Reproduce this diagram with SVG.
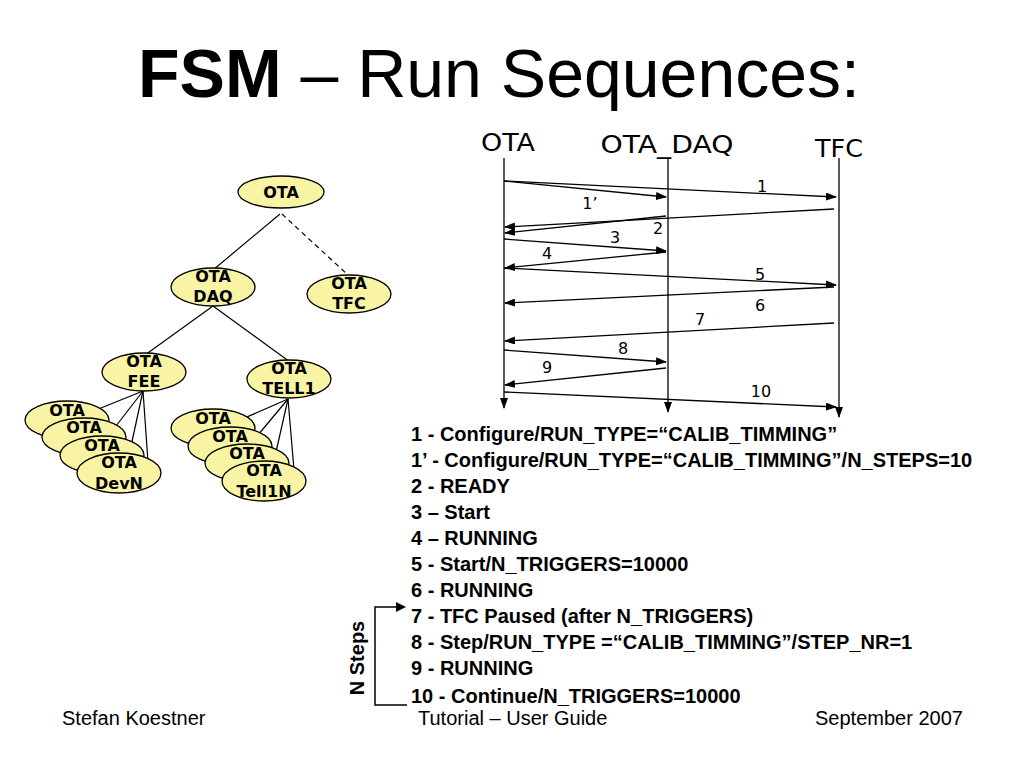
<svg xmlns="http://www.w3.org/2000/svg" width="1024" height="768" viewBox="0 0 1024 768">
<defs>
<style>
.nd{fill:#F9F4A4;stroke:#000;stroke-width:1.3}
.nt{font-family:"DejaVu Sans",sans-serif;font-weight:bold;font-size:16px;text-anchor:middle;fill:#000}
.tl{stroke:#000;stroke-width:1.2;fill:none}
.ln{stroke:#000;stroke-width:1.5;fill:none}
.ar{stroke:#000;stroke-width:1.3;fill:none;marker-end:url(#ah)}
.hd{font-family:"DejaVu Sans",sans-serif;font-size:25px;fill:#000;text-anchor:middle}
.lb{font-family:"DejaVu Sans",sans-serif;font-size:16px;fill:#000;text-anchor:middle}
.li{font-family:"Liberation Sans",Arial,sans-serif;font-weight:bold;font-size:20px;fill:#000}
.ft{font-family:"Liberation Sans",Arial,sans-serif;font-size:20px;fill:#000}
</style>
<marker id="ah" markerWidth="11" markerHeight="8" refX="10" refY="4" orient="auto" markerUnits="userSpaceOnUse">
<path d="M0,0 L11,4 L0,8 Z" fill="#000"/>
</marker>
</defs>
<rect width="1024" height="768" fill="#fff"/>

<text x="138" y="97" font-family="Liberation Sans,Arial,sans-serif" font-size="68" fill="#000"><tspan font-weight="bold">FSM</tspan> – Run Sequences:</text>

<g id="tree-connectors">
<line class="tl" x1="280" y1="214" x2="213" y2="270"/>
<line class="tl" x1="282" y1="214" x2="349" y2="276" stroke-dasharray="5,4"/>
<line class="tl" x1="213" y1="306" x2="145" y2="355"/>
<line class="tl" x1="213" y1="306" x2="290" y2="362"/>
<line class="tl" x1="143" y1="391" x2="96" y2="410"/>
<line class="tl" x1="143" y1="391" x2="116" y2="426"/>
<line class="tl" x1="143" y1="391" x2="131" y2="446"/>
<line class="tl" x1="143" y1="391" x2="148" y2="462"/>
<line class="tl" x1="288" y1="399" x2="240" y2="420"/>
<line class="tl" x1="288" y1="399" x2="258" y2="435"/>
<line class="tl" x1="288" y1="399" x2="276" y2="452"/>
<line class="tl" x1="288" y1="399" x2="294" y2="470"/>
</g>

<g id="n-ota"><ellipse class="nd" cx="281" cy="192" rx="43" ry="16"/><text class="nt" x="281" y="198">OTA</text></g>
<g id="n-daq"><ellipse class="nd" cx="213" cy="287" rx="42" ry="19"/><text class="nt" x="213" y="282">OTA</text><text class="nt" x="213" y="302">DAQ</text></g>
<g id="n-tfc"><ellipse class="nd" cx="349" cy="294" rx="42" ry="19"/><text class="nt" x="349" y="289">OTA</text><text class="nt" x="349" y="309">TFC</text></g>
<g id="n-fee"><ellipse class="nd" cx="144" cy="372" rx="42" ry="19"/><text class="nt" x="144" y="367">OTA</text><text class="nt" x="144" y="387">FEE</text></g>
<g id="n-tell1"><ellipse class="nd" cx="289" cy="379" rx="42" ry="19"/><text class="nt" x="289" y="374">OTA</text><text class="nt" x="289" y="394">TELL1</text></g>

<g id="n-dev1"><ellipse class="nd" cx="67" cy="420" rx="42" ry="19"/><text class="nt" x="67" y="416">OTA</text></g>
<g id="n-dev2"><ellipse class="nd" cx="84" cy="437" rx="42" ry="19"/><text class="nt" x="84" y="433">OTA</text></g>
<g id="n-dev3"><ellipse class="nd" cx="102" cy="455" rx="42" ry="19"/><text class="nt" x="102" y="451">OTA</text></g>
<g id="n-devN"><ellipse class="nd" cx="119" cy="473" rx="42" ry="20"/><text class="nt" x="119" y="468">OTA</text><text class="nt" x="119" y="489">DevN</text></g>

<g id="n-tell1a"><ellipse class="nd" cx="213" cy="428" rx="42" ry="19"/><text class="nt" x="213" y="424">OTA</text></g>
<g id="n-tell1b"><ellipse class="nd" cx="230" cy="446" rx="42" ry="19"/><text class="nt" x="230" y="442">OTA</text></g>
<g id="n-tell1c"><ellipse class="nd" cx="247" cy="463" rx="42" ry="19"/><text class="nt" x="247" y="459">OTA</text></g>
<g id="n-tell1N"><ellipse class="nd" cx="264" cy="481" rx="42" ry="20"/><text class="nt" x="264" y="476">OTA</text><text class="nt" x="264" y="497">Tell1N</text></g>

<g id="lifeline-ota"><text class="hd" x="508" y="151" textLength="54" lengthAdjust="spacingAndGlyphs">OTA</text><line class="ar" x1="504" y1="158" x2="504" y2="408"/></g>
<g id="lifeline-otadaq"><text class="hd" x="667" y="153" textLength="133" lengthAdjust="spacingAndGlyphs">OTA_DAQ</text><line class="ar" x1="668" y1="158" x2="668" y2="412"/></g>
<g id="lifeline-tfc"><text class="hd" x="839" y="157" textLength="48" lengthAdjust="spacingAndGlyphs">TFC</text><line class="ar" x1="839" y1="158" x2="839" y2="417"/></g>

<g id="messages">
<line class="ar" x1="504" y1="181" x2="836" y2="197"/>
<line class="ar" x1="504" y1="181" x2="666" y2="197"/>
<line class="ar" x1="834" y1="209" x2="505" y2="227"/>
<line class="ar" x1="666" y1="216" x2="505" y2="233"/>
<line class="ar" x1="504" y1="239" x2="666" y2="251"/>
<line class="ar" x1="666" y1="252" x2="505" y2="268"/>
<line class="ar" x1="504" y1="268" x2="836" y2="285"/>
<line class="ar" x1="834" y1="287" x2="505" y2="303"/>
<line class="ar" x1="834" y1="323" x2="505" y2="341"/>
<line class="ar" x1="504" y1="350" x2="666" y2="362"/>
<line class="ar" x1="666" y1="368" x2="505" y2="385"/>
<line class="ar" x1="504" y1="392" x2="836" y2="407"/>
</g>
<g id="message-labels">
<text class="lb" x="762" y="192">1</text>
<text class="lb" x="590" y="209">1’</text>
<text class="lb" x="658" y="234">2</text>
<text class="lb" x="615" y="243">3</text>
<text class="lb" x="547" y="259">4</text>
<text class="lb" x="760" y="280">5</text>
<text class="lb" x="760" y="311">6</text>
<text class="lb" x="700" y="325">7</text>
<text class="lb" x="623" y="354">8</text>
<text class="lb" x="547" y="373">9</text>
<text class="lb" x="761" y="397">10</text>
</g>

<g id="legend">
<text class="li" x="411" y="441">1 - Configure/RUN_TYPE=“CALIB_TIMMING”</text>
<text class="li" x="411" y="467">1’ - Configure/RUN_TYPE=“CALIB_TIMMING”/N_STEPS=10</text>
<text class="li" x="411" y="493">2 - READY</text>
<text class="li" x="411" y="519">3 – Start</text>
<text class="li" x="411" y="545">4 – RUNNING</text>
<text class="li" x="411" y="571">5 - Start/N_TRIGGERS=10000</text>
<text class="li" x="411" y="597">6 - RUNNING</text>
<text class="li" x="411" y="623">7 - TFC Paused (after N_TRIGGERS)</text>
<text class="li" x="411" y="649">8 - Step/RUN_TYPE =“CALIB_TIMMING”/STEP_NR=1</text>
<text class="li" x="411" y="675">9 - RUNNING</text>
<text class="li" x="411" y="703">10 - Continue/N_TRIGGERS=10000</text>
</g>

<g id="nsteps">
<path class="ln" d="M407,705 H375 V607 H398"/>
<path d="M396,602 L406,607 L396,612 Z" fill="#000"/>
<text class="li" x="0" y="0" transform="translate(364,658) rotate(-90)" text-anchor="middle">N Steps</text>
</g>

<g id="footer">
<text class="ft" x="62" y="725">Stefan Koestner</text>
<text class="ft" x="418" y="725">Tutorial – User Guide</text>
<text class="ft" x="815" y="725">September 2007</text>
</g>
</svg>
